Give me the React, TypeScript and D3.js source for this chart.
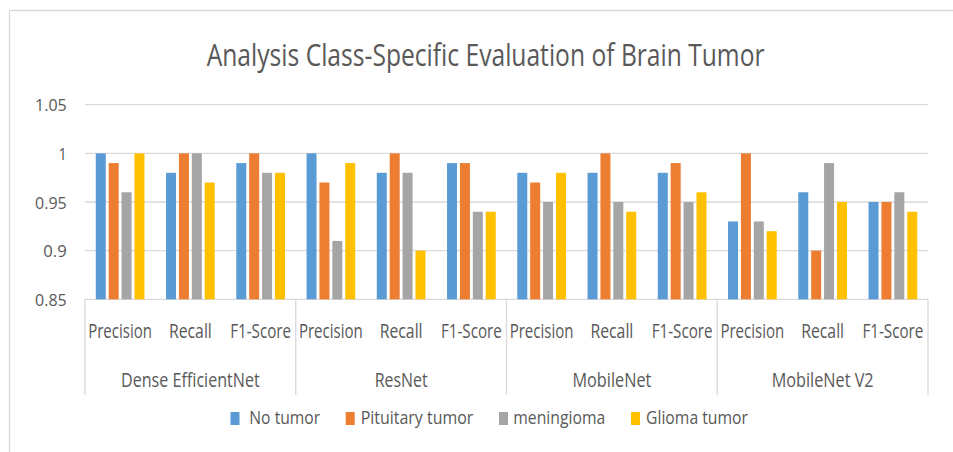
import React from "react";
import * as d3 from "d3";

const groups = ["Dense EfficientNet", "ResNet", "MobileNet", "MobileNet V2"];
const metrics = ["Precision", "Recall", "F1-Score"];
const seriesNames = ["No tumor", "Pituitary tumor", "meningioma", "Glioma tumor"];
const yTicks = [0.85, 0.9, 0.95, 1, 1.05];

// values per series, ordered group-by-group, metric-by-metric
const noTumor = [1.0, 0.98, 0.99, 1.0, 0.98, 0.99, 0.98, 0.98, 0.98, 0.93, 0.96, 0.95];
const pituitary = [0.99, 1.0, 1.0, 0.97, 1.0, 0.99, 0.97, 1.0, 0.99, 1.0, 0.9, 0.95];
const meningioma = [0.96, 1.0, 0.98, 0.91, 0.98, 0.94, 0.95, 0.95, 0.95, 0.93, 0.99, 0.96];
const glioma = [1.0, 0.97, 0.98, 0.99, 0.9, 0.94, 0.98, 0.94, 0.96, 0.92, 0.95, 0.94];
const seriesValues = [noTumor, pituitary, meningioma, glioma];

const colors = ["#5B9BD5", "#ED7D31", "#A5A5A5", "#FFC000"];

// layout (text widths measured from reference, text is horizontally condensed)
const W = 953;
const H = 452;
const plot = { left: 85, right: 928, top: 104.7, bottom: 299.3 };
const catLabelWidth: Record<string, number> = { Precision: 64, Recall: 43, "F1-Score": 61 };
const groupLabelWidth: Record<string, number> = {
  "Dense EfficientNet": 139,
  ResNet: 53,
  MobileNet: 79,
  "MobileNet V2": 102,
};
const legendLayout = [
  { sq: 230.5, tx: 249.3, w: 71 },
  { sq: 345.7, tx: 360.7, w: 112.6 },
  { sq: 499, tx: 513.3, w: 92 },
  { sq: 631, tx: 646, w: 102 },
];
const FONT_NAME = "Open Sans";
const FONT = "'Open Sans', 'DejaVu Sans', sans-serif";
const TEXT = "#595959";
const GRID = "#D9D9D9";

let ctx: CanvasRenderingContext2D | null = null;
function measure(text: string, size: number): number {
  if (!ctx) ctx = document.createElement("canvas").getContext("2d");
  if (!ctx) return text.length * size * 0.55;
  ctx.font = `${size}px '${FONT_NAME}', 'DejaVu Sans', sans-serif`;
  return ctx.measureText(text).width;
}

// text condensed horizontally to a target width
function Condensed(props: {
  x: number;
  y: number;
  size: number;
  width: number;
  anchor: "start" | "middle" | "end";
  children: string;
}) {
  const { x, y, size, width, anchor, children } = props;
  const sx = width / measure(children, size);
  return (
    <text
      transform={`translate(${x},${y}) scale(${sx},1)`}
      textAnchor={anchor}
      fontFamily={FONT}
      fontSize={size}
      fill={TEXT}
    >
      {children}
    </text>
  );
}

export default function App() {
  const categories = groups.flatMap((g) => metrics.map((m) => `${g}|${m}`));
  const x = d3.scaleBand<string>().domain(categories).range([plot.left, plot.right]).padding(0);
  const xg = d3.scaleBand<string>().domain(groups).range([plot.left, plot.right]).padding(0);
  const xs = d3
    .scaleBand<string>()
    .domain(seriesNames)
    .range([0, x.bandwidth()])
    .paddingInner(0.225)
    .paddingOuter(0.836);
  const y = d3.scaleLinear().domain([0.85, 1.05]).range([plot.bottom, plot.top]);

  const tickWidth = (s: string) => {
    let w = 0;
    for (const ch of s) w += ch === "." ? 6.8 : 8.3;
    return w;
  };
  const fmt = (v: number) => String(+v.toFixed(2));

  const groupEdges = [...groups.map((g) => xg(g)!), plot.right];

  return (
    <svg
      width={W}
      height={H}
      style={{ position: "fixed", left: 0, top: 0, background: "#fff", display: "block" }}
    >
      <rect x={0} y={0} width={W} height={H} fill="#fff" />
      {/* chart frame */}
      <line x1={9.5} x2={W} y1={10.5} y2={10.5} stroke={GRID} strokeWidth={1.3} />
      <line x1={9.5} x2={9.5} y1={10.5} y2={H} stroke={GRID} strokeWidth={1.3} />

      {/* title */}
      <Condensed x={206.7} y={66} size={31} width={558} anchor="start">
        Analysis Class-Specific Evaluation of Brain Tumor
      </Condensed>

      {/* gridlines and y ticks */}
      {yTicks.map((t) => (
        <g key={t}>
          <line
            x1={plot.left}
            x2={plot.right}
            y1={y(t)}
            y2={y(t)}
            stroke={GRID}
            strokeWidth={1.3}
          />
          <Condensed x={66.7} y={y(t) + 6.5} size={16} width={tickWidth(fmt(t))} anchor="end">
            {fmt(t)}
          </Condensed>
        </g>
      ))}

      {/* bars */}
      {seriesValues.map((vals, si) => (
        <g key={seriesNames[si]} fill={colors[si]}>
          {vals.map((v, ci) => (
            <rect
              key={ci}
              x={x(categories[ci])! + xs(seriesNames[si])!}
              y={y(v)}
              width={xs.bandwidth()}
              height={y(0.85) - y(v)}
            />
          ))}
        </g>
      ))}

      {/* category axis separators */}
      {groupEdges.map((ex, i) => (
        <line
          key={i}
          x1={ex}
          x2={ex}
          y1={plot.bottom}
          y2={395}
          stroke={GRID}
          strokeWidth={1.3}
        />
      ))}

      {/* metric labels */}
      {categories.map((c) => {
        const m = c.split("|")[1];
        const cx = x(c)! + x.bandwidth() / 2;
        return (
          <Condensed key={c} x={cx} y={338.3} size={20} width={catLabelWidth[m]} anchor="middle">
            {m}
          </Condensed>
        );
      })}

      {/* group labels */}
      {groups.map((g) => {
        const cx = xg(g)! + xg.bandwidth() / 2;
        return (
          <Condensed key={g} x={cx} y={386.7} size={20} width={groupLabelWidth[g]} anchor="middle">
            {g}
          </Condensed>
        );
      })}

      {/* legend */}
      {seriesNames.map((s, i) => (
        <g key={s}>
          <rect x={legendLayout[i].sq} y={412} width={9} height={13} fill={colors[i]} />
          <Condensed x={legendLayout[i].tx} y={423.5} size={18} width={legendLayout[i].w} anchor="start">
            {s}
          </Condensed>
        </g>
      ))}
    </svg>
  );
}
